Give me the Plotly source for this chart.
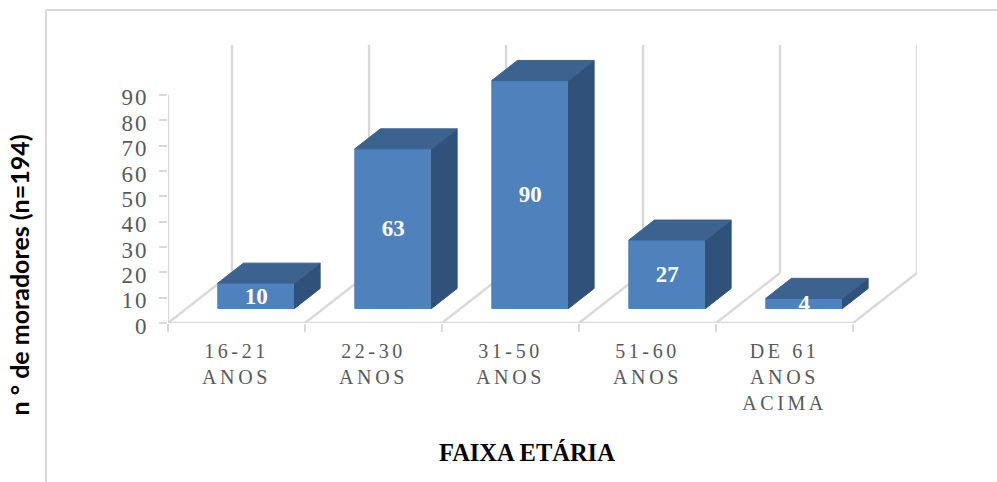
import plotly.graph_objects as go

categories = ["16-21<br>ANOS", "22-30<br>ANOS", "31-50<br>ANOS", "51-60<br>ANOS", "DE 61<br>ANOS<br>ACIMA"]
values = [10, 63, 90, 27, 4]
y_ticks = [0, 10, 20, 30, 40, 50, 60, 70, 80, 90]

front_color = "#4F81BD"
top_color = "#3C6290"
side_color = "#30527A"
grid_color = "#D9D9D9"
tick_color = "#595959"

# oblique projection of the 3D floor, in axis units
depth_x = 64 / 137
depth_y = 50 / 2.533
wall_top = 109.7

gap = 0.228
bar_w = 0.56
d_front = 0.29
d_back = 0.69
label_nudge = 0.8  # text sits a little high in its box


def project(x, d, v):
    return x + d * depth_x, v + d * depth_y


def poly(points, color):
    xs, ys = zip(*[project(*p) for p in points])
    return go.Scatter(
        x=list(xs) + [xs[0]],
        y=list(ys) + [ys[0]],
        mode="lines",
        fill="toself",
        fillcolor=color,
        line=dict(color=color, width=1),
        hoverinfo="skip",
        showlegend=False,
    )


def grid_line(xs, ys):
    return go.Scatter(
        x=xs,
        y=ys,
        mode="lines",
        line=dict(color=grid_color, width=2.4),
        hoverinfo="skip",
        showlegend=False,
    )


traces = []

# floor and back wall
for i in range(len(categories) + 1):
    bx, by = project(i, 1, 0)
    traces.append(grid_line([i, bx], [0, by]))
    traces.append(grid_line([bx, bx], [by, wall_top]))

# axis lines
traces.append(grid_line([0, len(categories)], [0, 0]))
traces.append(grid_line([0, 0], [0, y_ticks[-1]]))

# bars
for i, v in enumerate(values):
    x0 = i + gap
    x1 = x0 + bar_w
    traces.append(poly([(x0, d_front, 0), (x1, d_front, 0), (x1, d_front, v), (x0, d_front, v)], front_color))
    traces.append(poly([(x1, d_front, 0), (x1, d_back, 0), (x1, d_back, v), (x1, d_front, v)], side_color))
    traces.append(poly([(x0, d_front, v), (x1, d_front, v), (x1, d_back, v), (x0, d_back, v)], top_color))

# data labels, centred on the front face
label_pos = [project(i + gap + bar_w / 2, d_front, v / 2) for i, v in enumerate(values)]
traces.append(
    go.Scatter(
        x=[p[0] for p in label_pos],
        y=[p[1] - label_nudge for p in label_pos],
        mode="text",
        text=[str(v) for v in values],
        textposition="middle center",
        textfont=dict(family="Liberation Serif", size=23, color="white", weight="bold"),
        hoverinfo="skip",
        showlegend=False,
    )
)

fig = go.Figure(
    data=traces,
    layout=go.Layout(
        width=997,
        height=482,
        margin=dict(l=168, r=80, t=45, b=159, autoexpand=False),
        paper_bgcolor="white",
        plot_bgcolor="white",
        xaxis=dict(
            range=[0, 5 + depth_x],
            showgrid=False,
            zeroline=False,
            showline=False,
            tickmode="array",
            tickvals=[i + 0.5 for i in range(len(categories))],
            ticktext=categories,
            ticks="",
            tickangle=0,
            ticklabelstandoff=14,
            tickfont=dict(family="Liberation Serif", size=20, color=tick_color),
            minor=dict(
                tickmode="array",
                tickvals=list(range(len(categories) + 1)),
                ticks="outside",
                ticklen=8,
                tickwidth=2,
                tickcolor=grid_color,
                showgrid=False,
            ),
        ),
        yaxis=dict(
            range=[0, wall_top],
            showgrid=False,
            zeroline=False,
            showline=False,
            tickmode="array",
            tickvals=y_ticks,
            ticks="outside",
            ticklen=8,
            tickwidth=2,
            tickcolor=grid_color,
            ticklabelstandoff=6,
            tickfont=dict(family="Liberation Serif", size=23, color=tick_color),
        ),
        shapes=[
            dict(type="line", xref="paper", yref="paper", x0=-122 / 749, x1=-122 / 749, y0=-159 / 278, y1=313 / 278,
                 line=dict(color=grid_color, width=2)),
            dict(type="line", xref="paper", yref="paper", x0=-122 / 749, x1=829 / 749, y0=313 / 278, y1=313 / 278,
                 line=dict(color=grid_color, width=2)),
        ],
        annotations=[
            dict(
                text="n ° de moradores (n=194)",
                xref="paper",
                yref="paper",
                x=-150 / 749,
                y=(323 - 275.5) / 278,
                xanchor="center",
                yanchor="middle",
                textangle=-90,
                showarrow=False,
                font=dict(family="Lato", size=25, color="black", weight="bold"),
            ),
            dict(
                text="FAIXA ETÁRIA",
                xref="paper",
                yref="paper",
                x=(527 - 168) / 749,
                y=(323 - 452) / 278,
                xanchor="center",
                yanchor="middle",
                showarrow=False,
                font=dict(family="Liberation Serif", size=24.5, color="black", weight="bold"),
            ),
        ],
    ),
)

letter_spacing = """
document.body.style.margin = '0';
document.querySelectorAll('.xtick text').forEach(function (t) { t.style.letterSpacing = '3.6px'; });
document.querySelectorAll('.ytick text').forEach(function (t) {
    t.style.letterSpacing = '2px';
    t.setAttribute('dy', '2.5');
});
"""

fig.write_html("out.html", post_script=letter_spacing, config=dict(displayModeBar=False))
